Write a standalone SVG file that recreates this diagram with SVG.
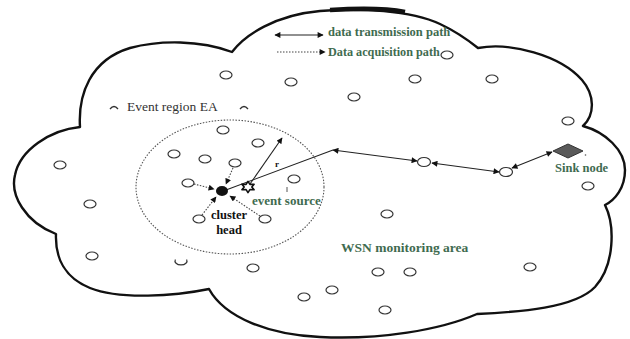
<svg xmlns="http://www.w3.org/2000/svg" width="630" height="339" viewBox="0 0 630 339">
<style>
.cloud{fill:none;stroke:#111;stroke-width:2.4;stroke-linejoin:round}
.node{fill:#fff;stroke:#333;stroke-width:1.2}
.tx{stroke:#222;stroke-width:1.1;fill:none}
.acq{stroke:#444;stroke-width:1.1;stroke-dasharray:1.5 1.5;fill:none}
.g{font-family:"Liberation Serif","Times New Roman",serif;font-weight:bold;fill:#3f6b50}
.b{font-family:"Liberation Serif","Times New Roman",serif;font-weight:bold;fill:#111}
.n{font-family:"Liberation Serif","Times New Roman",serif;fill:#333}
</style>
<defs>
<marker id="ah" viewBox="0 0 10 10" refX="9" refY="5" markerWidth="7" markerHeight="6" markerUnits="userSpaceOnUse" orient="auto-start-reverse">
<path d="M0,0 L10,5 L0,10 z" fill="#111"/>
</marker>
</defs>
<rect width="630" height="339" fill="#fff"/>

<g id="cloud">
<path class="cloud" d="M80,127 C78,95 90,60 130,48 C160,40 200,40 232,52 C245,35 275,15 320,11 C360,8 410,10 440,24 C455,31 468,40 478,48 C510,42 560,55 582,80 C595,95 595,115 583,126 C605,132 625,150 625,170 C625,188 615,200 605,205 C615,225 615,265 595,287 C575,308 520,312 477,314 C440,330 380,340 320,337 C270,335 225,318 209,289 C175,296 120,300 90,288 C65,278 55,258 56,234 C25,222 10,195 15,175 C20,150 50,130 80,127 Z"/>
<path d="M330,10 C360,8 390,9 405,12" fill="none" stroke="#111" stroke-width="4.5"/>
</g>

<g id="event-region">
<ellipse cx="230" cy="187" rx="94" ry="67" fill="none" stroke="#555" stroke-width="1.1" stroke-dasharray="1.5 1.5"/>
<path d="M110,109 Q114,104 118,109" fill="none" stroke="#333" stroke-width="1.3"/>
<text class="n" x="127" y="111" font-size="13.5">Event region EA</text>
<path d="M240,109 Q244,104 248,109" fill="none" stroke="#333" stroke-width="1.3"/>
</g>

<g id="legend">
<line class="tx" x1="275" y1="35" x2="323" y2="35" marker-start="url(#ah)" marker-end="url(#ah)"/>
<text class="g" x="328" y="36" font-size="12.5">data transmission path</text>
<line class="acq" x1="277" y1="52" x2="325" y2="52" marker-end="url(#ah)"/>
<text class="g" x="328" y="56" font-size="12.2">Data acquisition path</text>
</g>

<g id="connectors">
<line class="tx" x1="226" y1="190" x2="333" y2="150"/>
<line class="tx" x1="333" y1="150" x2="417" y2="161" marker-start="url(#ah)" marker-end="url(#ah)"/>
<line class="tx" x1="432" y1="163" x2="499" y2="172" marker-start="url(#ah)" marker-end="url(#ah)"/>
<line class="tx" x1="512" y1="168" x2="552" y2="152" marker-start="url(#ah)" marker-end="url(#ah)"/>
<line class="tx" x1="250" y1="184" x2="282" y2="138" marker-end="url(#ah)"/>
<line class="acq" x1="194" y1="184" x2="214" y2="189" marker-end="url(#ah)"/>
<line class="acq" x1="233" y1="168" x2="226" y2="184" marker-end="url(#ah)"/>
<line class="acq" x1="202" y1="215" x2="216" y2="197" marker-end="url(#ah)"/>
<line class="acq" x1="260" y1="216" x2="230" y2="196" marker-end="url(#ah)"/>
</g>

<g id="nodes">
<ellipse class="node" cx="447" cy="55" rx="6" ry="4"/>
<ellipse class="node" cx="226" cy="75" rx="6" ry="4"/>
<ellipse class="node" cx="291" cy="82" rx="6" ry="4"/>
<ellipse class="node" cx="354" cy="97" rx="6" ry="4"/>
<ellipse class="node" cx="415" cy="79" rx="6" ry="4"/>
<ellipse class="node" cx="492" cy="79" rx="6" ry="4"/>
<ellipse class="node" cx="568" cy="121" rx="6" ry="4"/>
<ellipse class="node" cx="60" cy="165" rx="6" ry="4"/>
<ellipse class="node" cx="90" cy="204" rx="6" ry="4"/>
<ellipse class="node" cx="223" cy="130" rx="6" ry="4"/>
<ellipse class="node" cx="258" cy="143" rx="6" ry="4"/>
<ellipse class="node" cx="174" cy="154" rx="6" ry="4"/>
<ellipse class="node" cx="205" cy="159" rx="6" ry="4"/>
<ellipse class="node" cx="235" cy="163" rx="6" ry="4"/>
<ellipse class="node" cx="188" cy="183" rx="6" ry="4"/>
<ellipse class="node" cx="294" cy="179" rx="6" ry="4"/>
<ellipse class="node" cx="199" cy="219" rx="6" ry="4"/>
<ellipse class="node" cx="265" cy="219" rx="6" ry="4"/>
<ellipse class="node" cx="387" cy="214" rx="6" ry="4"/>
<ellipse class="node" cx="588" cy="186" rx="6" ry="4"/>
<ellipse class="node" cx="92" cy="256" rx="6" ry="4"/>
<path class="node" fill="none" d="M175.4,259.5 A6,4 0 1 0 186.6,259.5"/>
<ellipse class="node" cx="253" cy="268" rx="6" ry="4"/>
<ellipse class="node" cx="304" cy="297" rx="6" ry="4"/>
<ellipse class="node" cx="332" cy="290" rx="6" ry="4"/>
<ellipse class="node" cx="378" cy="272" rx="6" ry="4"/>
<ellipse class="node" cx="410" cy="272" rx="6" ry="4"/>
<ellipse class="node" cx="385" cy="310" rx="6" ry="4"/>
<ellipse class="node" cx="530" cy="267" rx="6" ry="4"/>
<ellipse class="node" cx="424" cy="162" rx="6.5" ry="4.5"/>
<ellipse class="node" cx="506" cy="172" rx="6.5" ry="4.5"/>
</g>

<g id="cluster-head">
<ellipse cx="222" cy="191" rx="6" ry="5" fill="#111"/>
<text class="b" x="229" y="219" font-size="12.5" text-anchor="middle">cluster</text>
<text class="b" x="229" y="234" font-size="12.5" text-anchor="middle">head</text>
</g>

<g id="event-source">
<polygon points="248,181.4 249.9,184.4 254.1,184.2 251.8,187 254.1,189.8 249.9,189.6 248,192.6 246.1,189.6 241.9,189.8 244.2,187 241.9,184.2 246.1,184.4" fill="#fff" stroke="#111" stroke-width="1.6" stroke-linejoin="round"/>
<text class="b" x="275" y="167" font-size="9">r</text>
<line x1="287" y1="187" x2="287" y2="192" stroke="#555" stroke-width="1"/>
<text class="g" x="252" y="205" font-size="13">event source</text>
</g>

<g id="sink-node">
<polygon points="553,151 568,144 583,151 568,158" fill="#5a5a5a" stroke="#333" stroke-width="1"/>
<circle cx="585.5" cy="155" r="0.8" fill="#555"/>
<text class="g" x="555" y="172" font-size="12.5">Sink node</text>
</g>

<g id="area-label">
<text class="g" x="341" y="252" font-size="13.5">WSN monitoring area</text>
</g>
</svg>
